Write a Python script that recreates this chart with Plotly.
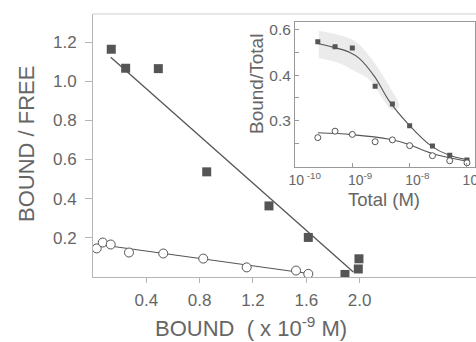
import plotly.graph_objects as go

# ---- Main Scatchard plot data ----
sq_bound = [0.137, 0.245, 0.490, 0.853, 1.320, 1.615, 1.890, 1.995, 1.990]
sq_ratio = [1.163, 1.066, 1.064, 0.537, 0.363, 0.202, 0.013, 0.093, 0.041]
ci_bound = [0.028, 0.073, 0.133, 0.270, 0.527, 0.827, 1.153, 1.523, 1.615]
ci_ratio = [0.146, 0.176, 0.166, 0.125, 0.120, 0.094, 0.049, 0.033, 0.016]
sq_fit_x = [0.133, 1.953]
sq_fit_y = [1.122, 0.026]
ci_fit_x = [0.140, 1.615]
ci_fit_y = [0.157, 0.018]

# ---- Inset data (axis units; tick labels as printed) ----
ins_total = [2.5e-10, 5e-10, 1e-9, 2.5e-9, 5e-9, 1e-8, 2.5e-8, 5e-8, 1e-7]
ins_sq = [0.546, 0.524, 0.518, 0.351, 0.274, 0.179, 0.090, 0.050, 0.029]
ins_ci = [0.127, 0.155, 0.141, 0.109, 0.117, 0.092, 0.048, 0.026, 0.017]
sq_curve_x = [2.4e-10, 4.7e-10, 8.9e-10, 1.32e-9, 2.45e-9, 4.47e-9, 9.8e-9, 2.4e-8, 4.8e-8, 9.5e-8]
sq_curve_y = [0.539, 0.521, 0.500, 0.473, 0.393, 0.284, 0.182, 0.090, 0.051, 0.032]
ci_curve_x = [2.5e-10, 9.8e-10, 4.47e-9, 9.5e-9, 2.4e-8, 9.5e-8]
ci_curve_y = [0.148, 0.140, 0.120, 0.098, 0.059, 0.025]
band_x = [2.6e-10, 5.9e-10, 1.15e-9, 2.24e-9, 4.47e-9, 6.6e-9, 5.0e-9, 2.0e-9, 1.15e-9, 5.9e-10, 2.6e-10]
band_y = [0.594, 0.575, 0.546, 0.466, 0.349, 0.262, 0.248, 0.379, 0.415, 0.452, 0.473]

y_ticks = [0.2, 0.4, 0.6, 0.8, 1.0, 1.2]
y_labels = ["0.2", "0.4", "0.6", "0.8", "1.0", "1.2"]
x_ticks = [0.4, 0.8, 1.2, 1.6, 2.0]
x_labels = ["0.4", "0.8", "1.2", "1.6", "2.0"]
ins_yticks = [0.1, 0.2, 0.3, 0.4, 0.5, 0.6]
ins_ylabels = ["", "0.3", "", "0.4", "", "0.6"]
ins_xticks = [1e-10, 1e-9, 1e-8, 1e-7]
ins_xlabels = ["&nbsp;&nbsp;&nbsp;&nbsp;&nbsp;10<sup> -10</sup>",
               "&nbsp;&nbsp;&nbsp;&nbsp;10<sup>-9</sup>",
               "&nbsp;&nbsp;&nbsp;&nbsp;10<sup>-8</sup>",
               "&nbsp;&nbsp;&nbsp;&nbsp;10<sup>-7</sup>"]

DARK = "#555555"
TXT = "#666666"
AX = "#b5b5b5"
FONT = "Liberation Sans, Arial, sans-serif"

W, H = 476, 342
L, R, T, B = 93, 0, 14, 342 - 277
PW, PH = W - L - R, H - T - B


def px(x):
    return (x - L) / PW


def py(y):
    return (H - B - y) / PH


fig = go.Figure()

fig.add_trace(go.Scatter(x=sq_fit_x, y=sq_fit_y, mode="lines",
                         line=dict(color=DARK, width=1.3), showlegend=False))
fig.add_trace(go.Scatter(x=ci_fit_x, y=ci_fit_y, mode="lines",
                         line=dict(color=DARK, width=1.1), showlegend=False))
fig.add_trace(go.Scatter(x=sq_bound, y=sq_ratio, mode="markers",
                         marker=dict(symbol="square", size=9, color=DARK),
                         showlegend=False))
fig.add_trace(go.Scatter(x=ci_bound, y=ci_ratio, mode="markers",
                         marker=dict(symbol="circle", size=9, color="white",
                                     line=dict(color=DARK, width=1)),
                         showlegend=False))

fig.add_trace(go.Scatter(x=band_x, y=band_y, mode="lines", fill="toself",
                         fillcolor="rgba(205,205,205,0.4)", line=dict(width=0, shape="spline"),
                         xaxis="x2", yaxis="y2", showlegend=False))
fig.add_trace(go.Scatter(x=sq_curve_x, y=sq_curve_y, mode="lines",
                         line=dict(color=DARK, width=1.1, shape="spline"),
                         xaxis="x2", yaxis="y2", showlegend=False))
fig.add_trace(go.Scatter(x=ci_curve_x, y=ci_curve_y, mode="lines",
                         line=dict(color=DARK, width=1.1, shape="spline"),
                         xaxis="x2", yaxis="y2", showlegend=False))
fig.add_trace(go.Scatter(x=ins_total, y=ins_sq, mode="markers",
                         marker=dict(symbol="square", size=5, color=DARK),
                         xaxis="x2", yaxis="y2", showlegend=False))
fig.add_trace(go.Scatter(x=ins_total, y=ins_ci, mode="markers",
                         marker=dict(symbol="circle", size=6, color="white",
                                     line=dict(color=DARK, width=1)),
                         xaxis="x2", yaxis="y2", showlegend=False))

fig.update_layout(
    width=W, height=H,
    margin=dict(l=L, r=R, t=T, b=B, autoexpand=False),
    paper_bgcolor="white", plot_bgcolor="white",
    font=dict(family=FONT, color=TXT),
    hovermode=False,
    xaxis=dict(range=[0, 2.873], tickvals=x_ticks, ticktext=x_labels, automargin=False,
               showgrid=False, zeroline=False, showline=True, linecolor=AX, linewidth=1,
               ticks="outside", ticklen=5, tickcolor=AX, ticklabelstandoff=3,
               tickfont=dict(size=17, color=TXT)),
    yaxis=dict(range=[0, 1.343], tickvals=y_ticks, ticktext=y_labels, automargin=False,
               showgrid=False, zeroline=False, showline=True, linecolor=AX, linewidth=1,
               ticks="outside", ticklen=7, tickcolor=AX, ticklabelstandoff=5,
               tickfont=dict(size=17, color=TXT)),
    xaxis2=dict(type="log", range=[-10, -6.86], domain=[px(295), px(475)], anchor="y2",
                tickvals=ins_xticks, ticktext=ins_xlabels, automargin=False,
                ticklabeloverflow="allow",
                showgrid=False, zeroline=False, showline=True, linecolor="#999999", linewidth=1,
                mirror=True, ticks="inside", ticklen=4, tickcolor="#999999",
                tickfont=dict(size=14, color=TXT)),
    yaxis2=dict(range=[0, 0.633], domain=[py(166.7), py(21.7)], anchor="x2",
                tickvals=ins_yticks, ticktext=ins_ylabels, automargin=False,
                showgrid=False, zeroline=False, showline=True, linecolor="#999999", linewidth=1,
                mirror=True, ticks="inside", ticklen=4, tickcolor="#999999",
                tickfont=dict(size=15.5, color=TXT)),
    shapes=[dict(type="line", xref="paper", yref="paper", x0=0, x1=1, y0=1, y1=1,
                 line=dict(color="#d0d0d0", width=1))],
    annotations=[
        dict(text="BOUND / FREE", xref="paper", yref="paper", x=px(26), y=py(144),
             showarrow=False, textangle=-90, font=dict(size=22, color=TXT),
             xanchor="center", yanchor="middle"),
        dict(text="BOUND  ( x 10<sup>-9</sup> M)", xref="paper", yref="paper",
             x=px(251), y=py(343), showarrow=False,
             font=dict(size=22, color=TXT), xanchor="center", yanchor="bottom"),
        dict(text="Bound/Total", xref="paper", yref="paper", x=px(256), y=py(84),
             showarrow=False, textangle=-90, font=dict(size=19, color=TXT),
             xanchor="center", yanchor="middle"),
        dict(text="Total (M)", xref="paper", yref="paper", x=px(384), y=py(199),
             showarrow=False, font=dict(size=18.5, color=TXT),
             xanchor="center", yanchor="middle"),
    ],
)

fig.write_html(
    "out.html",
    config={"displayModeBar": False, "staticPlot": True},
    post_script="document.body.style.margin='0';document.documentElement.style.overflow='hidden';",
)
